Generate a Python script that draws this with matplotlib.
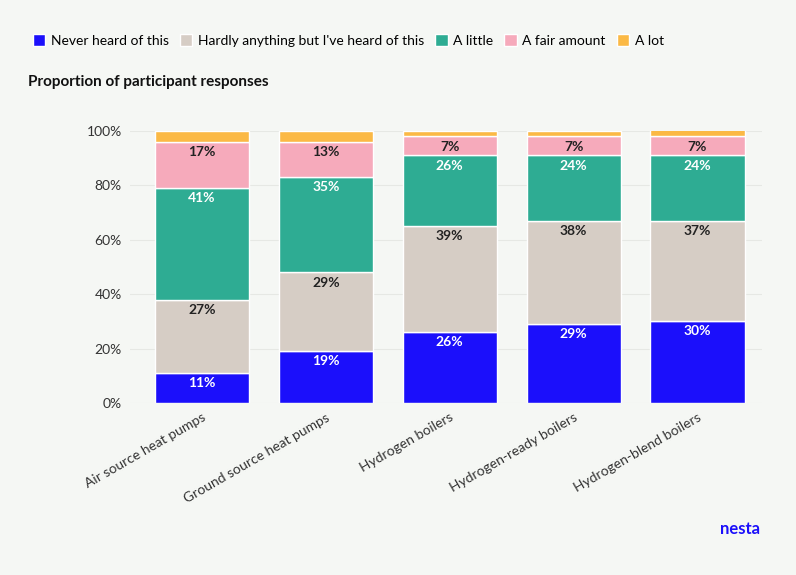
import matplotlib.pyplot as plt
import numpy as np

categories = ["Air source heat pumps", "Ground source heat pumps", "Hydrogen boilers",
              "Hydrogen-ready boilers", "Hydrogen-blend boilers"]
series_names = ["Never heard of this", "Hardly anything but I've heard of this",
                "A little", "A fair amount", "A lot"]
never = [11, 19, 26, 29, 30]
hardly = [27, 29, 39, 38, 37]
little = [41, 35, 26, 24, 24]
fair = [17, 13, 7, 7, 7]
lot = [4, 4, 2, 2, 3]
colors = ["#1b0ffb", "#d6cdc5", "#2eac93", "#f6aabb", "#fbb945"]
label_colors = ["white", "#222222", "white", "#222222", None]

plt.rcParams['font.family'] = ['Lato', 'DejaVu Sans']
bg = "#f5f7f4"
fig = plt.figure(figsize=(7.96, 5.75), dpi=100, facecolor=bg)
ax = fig.add_axes([130/796, 1-403/575, 632/796, 272/575], facecolor=bg)

x = np.arange(len(categories))
bottom = np.zeros(len(categories))
for name, vals, c, lc in zip(series_names, [never, hardly, little, fair, lot], colors, label_colors):
    vals = np.array(vals, dtype=float)
    ax.bar(x, vals, 0.76, bottom=bottom, color=c, edgecolor="white", linewidth=1, label=name, zorder=2)
    if lc:
        for xi, b, v in zip(x, bottom, vals):
            ax.text(xi, b + v - 1.5, f"{int(v)}%", ha="center", va="top", color=lc,
                    fontsize=10, fontweight="bold", zorder=3)
    bottom += vals

ax.set_xlim(-0.58, 4.52)
ax.set_ylim(0, 100)
ax.set_yticks(range(0, 101, 20))
ax.set_yticklabels([f"{v}%" for v in range(0, 101, 20)], fontsize=10, color="#333333")
ax.grid(axis="y", color="#e6e8e4", linewidth=0.8, zorder=0)
ax.set_xticks(x)
ax.set_xticklabels(categories, rotation=30, ha="right", rotation_mode="anchor", fontsize=10, color="#333333")
for s in ax.spines.values():
    s.set_visible(False)
ax.tick_params(length=0, pad=6)

fig.legend(loc="upper left", bbox_to_anchor=(20/796, 1-22/575), ncol=5, frameon=False,
           fontsize=10, handlelength=0.9, handleheight=0.9, handletextpad=0.4, columnspacing=0.8)
fig.text(28/796, 1-82/575, "Proportion of participant responses", fontsize=11, fontweight="bold",
         color="#111111", va="center")
fig.text(760/796, 1-529/575, "nesta", fontsize=12, fontweight="bold", color="#1b0ffb", ha="right", va="center")
fig.savefig("out.png", dpi=100, facecolor=bg)
